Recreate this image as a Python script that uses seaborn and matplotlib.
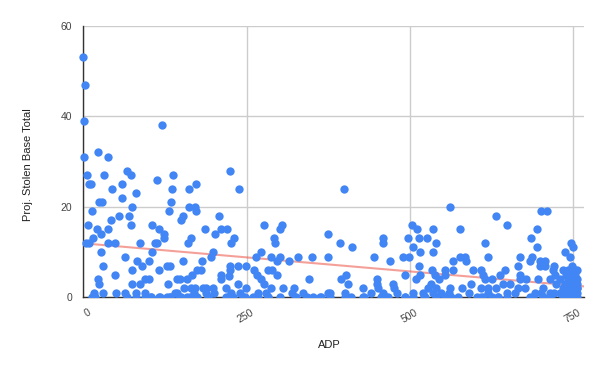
import numpy as np
import pandas as pd
import matplotlib
matplotlib.use("Agg")
import matplotlib.pyplot as plt
import matplotlib.transforms as mtransforms
from matplotlib.patches import Rectangle
import seaborn as sns

# ADP vs projected stolen bases
adp = [
    0, 3, 1, 120, 1, 22, 38,
    5, 8, 11, 32, 66, 73, 59, 44, 81, 59, 24, 29, 13, 75, 54, 70, 73, 42, 7, 21, 38, 27, 15, 4, 9, 37, 48,
    27, 63, 30, 48, 22, 24, 16, 13, 64, 80, 75, 86, 75, 82, 89, 87, 101, 105, 105, 112, 137, 136, 173,
    162, 134, 131, 152, 150, 161, 171, 173, 116, 124, 124, 109, 113, 160, 165, 186, 115, 128, 133, 153,
    100, 95, 129, 143, 148, 159, 166, 174, 180, 182, 154, 164, 171, 183, 143, 115, 95, 133, 159, 174,
    187, 104, 128, 150,
    225, 238, 208, 202, 210, 220, 226, 230, 199, 195, 224, 224, 237, 249, 211, 211, 223, 236, 249, 187,
    198, 218, 226, 190, 221, 244, 264, 272, 276, 301, 304, 292, 293, 287, 297, 301, 314, 328, 350, 375,
    375, 261, 265, 272, 276, 282, 289, 297, 287, 306, 323, 346, 267, 282, 336, 351, 364, 374, 259,
    399, 561, 393, 411, 458, 459, 445, 470, 489, 499, 497, 504, 503, 510, 513, 515, 526, 535, 539, 535,
    513, 493, 509, 515, 533, 538, 553, 566, 566, 394, 402, 405, 450, 450, 451, 474, 475, 428, 377, 400,
    410, 429, 458, 463, 492, 504, 522, 532, 540, 545, 548, 561, 554, 527, 535, 558,
    631, 649, 577, 700, 710, 695, 685, 695, 614, 619, 576, 584, 586, 668, 686, 683, 699, 706, 699, 706,
    720, 666, 737, 745, 747, 750, 596, 609, 612, 645, 637, 625, 614, 594, 580, 609, 619, 632, 642, 653,
    668, 678, 669, 665, 676, 696, 714, 722, 719, 734, 739, 729, 742, 752, 752, 755, 747, 734, 724, 704,
    691, 714, 729, 745, 755, 609, 625, 635, 648, 563, 683, 704, 737, 745, 750,
    740, 750, 755, 742, 748, 755,
    # players piled up along the bottom rows (mostly hidden by overlap)
    18, 66, 81, 94, 104, 117, 132, 148, 163, 173, 191, 219, 229, 247, 267, 283, 301, 326, 342, 362, 377,
    400, 428, 456, 466, 492, 505, 523, 540, 553, 574, 602, 612, 635, 648, 688, 704, 714, 734, 744, 755,
    30, 50, 140, 170, 200, 240, 280, 320, 440, 480, 520, 560, 590, 620, 660, 700, 720, 735, 745, 750,
    755, 740, 745, 750, 755, 748, 752, 738, 742,
]
proj_sb = [
    53, 47, 39, 38, 31, 32, 31,
    27, 25, 25, 27, 28, 27, 25, 24, 23, 22, 21, 21, 19, 20, 18, 18, 16, 17, 16, 15, 15, 14, 13, 12, 12, 12, 12,
    10, 9, 7, 5, 4, 3, 1, 0, 1, 1, 3, 3, 6, 8, 7, 12, 8, 10, 16, 26, 27, 24, 25,
    24, 21, 19, 18, 17, 20, 20, 19, 15, 14, 13, 12, 12, 12, 13, 15, 6, 7, 7, 8,
    4, 4, 3, 4, 4, 4, 5, 6, 6, 8, 2, 2, 2, 2, 1, 0, 1, 0, 0, 0,
    1, 0, 0, 0,
    28, 24, 18, 14, 15, 15, 12, 13, 10, 9, 7, 6, 7, 7, 5, 4, 4.7, 3, 2, 2,
    2, 2, 1, 0, 0, 0, 9, 10, 16, 15, 16, 13, 12, 9, 8, 9, 8, 9, 9, 14,
    9, 6, 5, 4, 3, 6, 6, 5, 2, 2, 2, 4, 1, 0, 1, 0, 0, 1, 0,
    24, 20, 12, 11, 13, 12, 9, 8, 9, 9, 13, 11, 16, 15, 13, 10, 13, 15, 12, 10,
    7, 5, 4, 5, 6, 5, 6, 8, 6, 4, 5, 3, 4, 3, 2, 3, 2, 2, 1, 1,
    0, 0, 1, 0, 0, 1, 0, 3, 2, 4, 1, 2, 5, 2, 1, 0,
    18, 16, 15, 19, 19, 15, 13, 11, 12, 9, 9, 9, 8, 9, 9, 8, 8, 8, 7, 7,
    7, 7, 10, 9, 12, 11, 6, 6, 5, 6, 5, 4, 4, 3, 2, 2, 2, 2, 3, 3,
    4, 4, 5, 2, 2, 4, 4, 5, 6, 6, 5, 4, 4, 5, 6, 3, 2, 2, 3, 2,
    1, 1, 1, 1, 1, 0, 0, 0, 1, 0, 0, 0, 3, 3, 4,
    0, 0, 2, 6, 7, 4,
    0, 0, 0, 0, 0, 0, 0, 0, 0, 0, 0, 0, 0, 0, 0, 0, 0, 0, 0, 0, 0,
    0, 0, 0, 0, 0, 0, 0, 0, 0, 0, 0, 0, 0, 0, 0, 0, 0, 0, 0, 0,
    1, 1, 1, 1, 1, 1, 1, 1, 1, 1, 1, 1, 1, 1, 1, 1, 1, 1, 1, 1,
    2, 2, 4, 5, 6, 3, 1, 0, 1,
]
x_ticks = [0, 250, 500, 750]
y_ticks = [0, 20, 40, 60]

df = pd.DataFrame({"ADP": adp, "Proj. Stolen Base Total": proj_sb})

sns.set_style("white")
plt.rcParams['font.family'] = ['Liberation Sans', 'DejaVu Sans']

fig = plt.figure(figsize=(6, 3.71), dpi=100)
ax = fig.add_axes([0.139, 0.1987, 0.834, 0.732])
ax.set_xlim(0, 766)
ax.set_ylim(0, 60)

# trendline under the points, spanning the whole axis
sns.regplot(data=df, x="ADP", y="Proj. Stolen Base Total", scatter=False, ci=None,
            truncate=False, ax=ax,
            line_kws={"color": "#ea4335", "alpha": 0.5, "lw": 1.5, "zorder": 2})
sns.scatterplot(data=df, x="ADP", y="Proj. Stolen Base Total", color="#4285f4",
                s=36, linewidth=0, ax=ax, zorder=3)
# points are cut at the x axis but not at the y axis
ax.collections[-1].set_clip_path(Rectangle((-0.05, 0), 1.1, 1.1, transform=ax.transAxes))

ax.set_xlim(0, 766)
ax.set_ylim(0, 60)
ax.set_xticks(x_ticks)
ax.set_yticks(y_ticks)
ax.grid(True, color="#cccccc", lw=1)
ax.set_axisbelow(True)
ax.tick_params(axis="x", length=0, labelsize=7.5, labelcolor="#444444", pad=7)
ax.tick_params(axis="y", length=3.6, width=1, color="#cccccc", labelsize=7.5,
               labelcolor="#444444", pad=4.5)
ax.yaxis.get_major_ticks()[0].tick1line.set_color("#333333")

shift = mtransforms.ScaledTranslation(3 / 72, 0, fig.dpi_scale_trans)
for lbl in ax.get_xticklabels():
    lbl.set_rotation(30)
    lbl.set_ha("right")
    lbl.set_rotation_mode("anchor")
    lbl.set_transform(lbl.get_transform() + shift)

for side in ["top", "right"]:
    ax.spines[side].set_visible(False)
for side in ["left", "bottom"]:
    ax.spines[side].set_color("#333333")
    ax.spines[side].set_linewidth(1)

ax.set_xlabel("ADP", fontsize=8, color="#222222")
ax.set_ylabel("Proj. Stolen Base Total", fontsize=8, color="#222222")
ax.xaxis.set_label_coords(0.492, -0.157)
ax.yaxis.set_label_coords(-0.100, 0.49)

fig.savefig("out.png", dpi=100)
